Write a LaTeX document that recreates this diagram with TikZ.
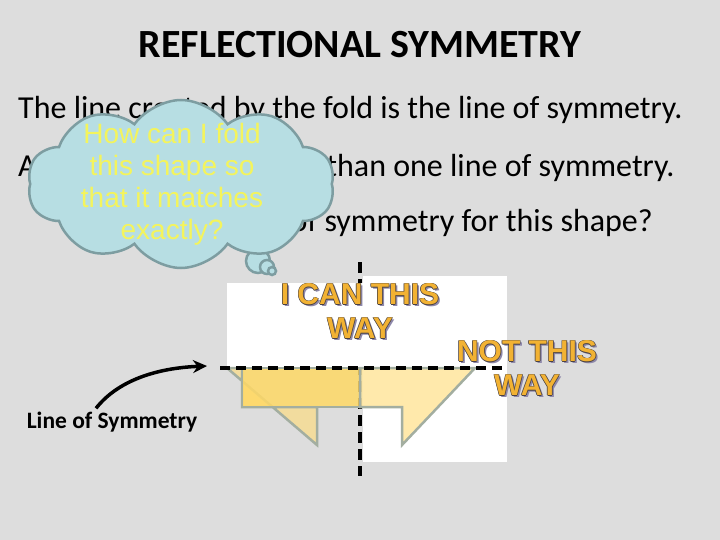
\documentclass[tikz,border=0pt]{standalone}
\usepackage{fontspec}
\setmainfont{Carlito}
\newfontfamily\arialfont{Liberation Sans}
\usetikzlibrary{arrows.meta,shapes.symbols}
\definecolor{slidegray}{HTML}{DDDDDD}
\definecolor{cloudblue}{HTML}{B7DEE3}
\definecolor{cloudedge}{HTML}{7D9DA1}
\definecolor{cloudtext}{HTML}{F4F45C}
\definecolor{shapegold}{HTML}{FFD966}
\definecolor{shapepale}{HTML}{F5DC98}
\definecolor{shapelight}{HTML}{FFE7A2}
\definecolor{shapeedge}{HTML}{A3AEA0}
\definecolor{wordorange}{HTML}{F2B233}
\definecolor{wordedge}{HTML}{4A4242}
\definecolor{wordshadow}{HTML}{8E88AA}
\newcommand\fxword[1]{%
  \leavevmode
  \rlap{\color{wordshadow}\hspace{2pt}\raisebox{-2pt}{#1}}%
  \rlap{\color{wordedge}\hspace{-0.7pt}#1}%
  \rlap{\color{wordedge}\hspace{0.7pt}#1}%
  \rlap{\color{wordedge}\raisebox{0.7pt}{#1}}%
  \rlap{\color{wordedge}\raisebox{-0.7pt}{#1}}%
  {\color{wordorange}#1}}
\tikzset{
  bodytext/.style={anchor=base west, inner sep=0pt, font=\fontsize{32}{38}\selectfont},
  thought/.style={
    shape=cloud, cloud puffs=10, cloud puff arc=110, cloud ignores aspect,
    minimum width=307pt, minimum height=168pt, inner sep=0pt,
    fill=cloudblue, draw=cloudedge, line width=2.5pt
  },
  bubble/.style={circle, inner sep=0pt, fill=cloudblue, draw=cloudedge, line width=2.5pt},
  thoughttext/.style={inner sep=0pt, text=cloudtext, align=center, font=\arialfont\fontsize{28}{32}\selectfont},
  paper/.style={fill=white, draw=none},
  piece/.style={draw=shapeedge, line width=2.5pt, line join=miter},
  foldline/.style={line width=3.6pt, dash pattern=on 11pt off 6pt},
  bigword/.style={inner sep=0pt, align=center, font=\arialfont\bfseries\fontsize{30}{34}\selectfont},
  symarrow/.style={-{Stealth[length=14pt,width=13pt]}, line width=3.5pt}
}

\begin{document}
\begin{tikzpicture}[x=1pt,y=-1pt]

% Slide
\fill[slidegray] (0,0) rectangle (720,540);
\useasboundingbox (0,0) rectangle (720,540);

% Title and text
\node[anchor=base, inner sep=0pt, font=\bfseries\fontsize{40}{48}\selectfont] (title) at (360,58) {REFLECTIONAL SYMMETRY};
\node[bodytext] (line1) at (18,119) {The line created by the fold is the line of symmetry.};
\node[bodytext] (line2) at (18,177) {A shape can have more than one line of symmetry.};
\node[bodytext, anchor=base east] (line3) at (653,232) {Where is the line of symmetry for this shape?};

% Thought cloud
\node[bubble, minimum size=24pt] (bubble1) at (258,261) {};
\node[bubble, minimum size=14pt] (bubble2) at (267,267) {};
\node[bubble, minimum size=8pt] (bubble3) at (272,271) {};
\node[thought] (cloud) at (181,184) {};
\node[thoughttext] (question) at (172,184) {How can I fold\\this shape so\\that it matches\\exactly?};

% Vertical fold (behind the paper)
\coordinate (vtop) at (360,262);
\coordinate (vbot) at (360,476);
\draw[foldline] (vtop) -- (vbot);

% Paper
\fill[paper] (227,283) rectangle (363,368);
\fill[paper] (363,276) rectangle (507,462);

% Shape
\filldraw[piece, fill=shapepale, fill opacity=0.9] (227,368) -- (317,445) -- (317,407) -- (242,407) -- (242,368) -- cycle;
\filldraw[piece, fill=shapegold, fill opacity=0.85] (242,368) rectangle (360,407);
\filldraw[piece, fill=shapelight, fill opacity=0.9] (360,368) -- (475,368) -- (402,445) -- (402,407) -- (360,407) -- cycle;

% Horizontal fold
\coordinate (hleft) at (220,368);
\coordinate (hright) at (503,368);
\draw[foldline, dash pattern=on 10pt off 6pt] (hleft) -- (hright);

% Labels
\node[bigword] (canway) at (360,312) {\fxword{I CAN THIS}\\\fxword{WAY}};
\node[bigword] (notway) at (527,369) {\fxword{NOT THIS}\\\fxword{WAY}};

\node[anchor=base, inner sep=0pt, font=\bfseries\fontsize{23.5}{28}\selectfont] (symlabel) at (112,428) {Line of Symmetry};
\coordinate (symtip) at (207,366);
\draw[symarrow] ([xshift=-16pt,yshift=3pt]symlabel.north) .. controls +(22,-28) and +(-50,2) .. (symtip);

\end{tikzpicture}
\end{document}
